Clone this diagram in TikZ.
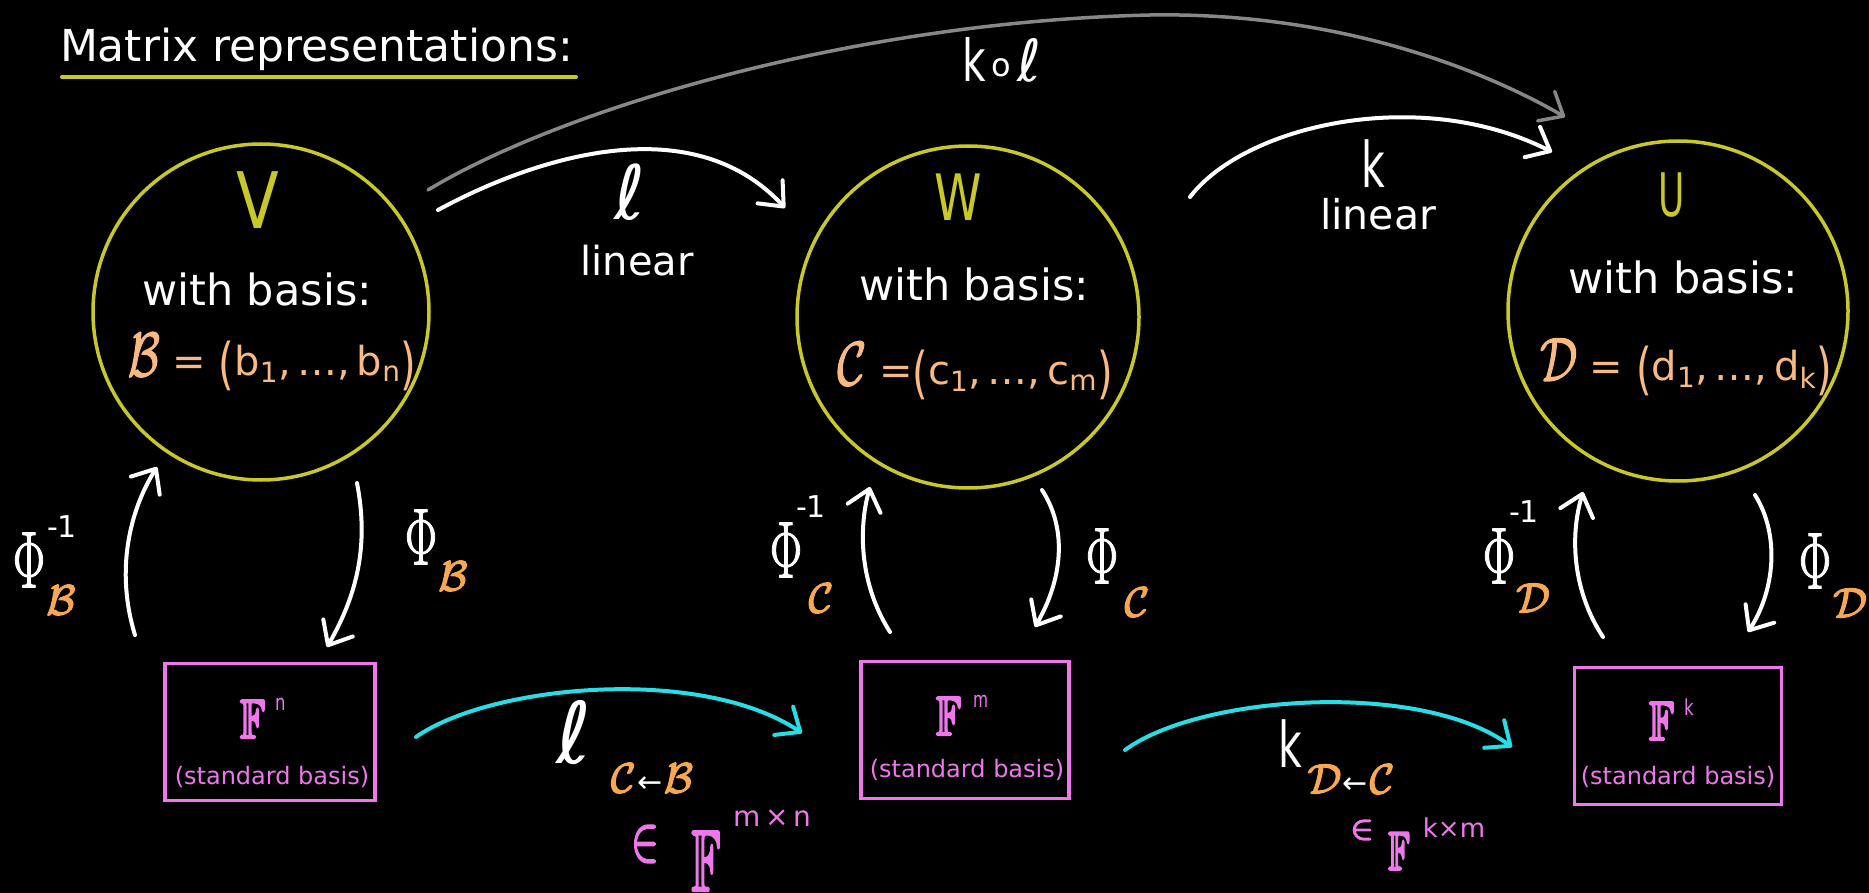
\documentclass[tikz,border=0pt]{standalone}
\usepackage{fix-cm}
\usepackage{amssymb}
\usepackage{graphicx}
\usepackage[no-math]{fontspec}
\setmainfont{DejaVu Sans}
\usetikzlibrary{arrows.meta}
\definecolor{olive}{RGB}{200,200,40}
\definecolor{peach}{RGB}{248,186,130}
\definecolor{orng}{RGB}{248,168,80}
\definecolor{pnk}{RGB}{238,120,235}
\definecolor{cyn}{RGB}{40,222,230}
\definecolor{gry}{RGB}{135,135,135}
\newcommand\fs[1]{\fontsize{#1}{#1}\selectfont}
\newcommand\hsc[2]{\scalebox{#1}[1]{#2}}
\newcommand\thk[2]{\special{pdf:literal direct #1 w 1 j 2 Tr}#2\special{pdf:literal direct 0 Tr}}
\newcommand\bparen[1]{\raisebox{-0.18em}{\scalebox{1}[1.4]{#1}}}
\newcommand\myPhi{\hsc{0.6}{\thk{1.3}{$\Phi$}}}
\newcommand\scrl[2]{{\fs{#1}\thk{1.4}{$\mathcal{#2}$}}}
\newcommand\bbF[2]{{\fs{#1}\hsc{#2}{\thk{2.4}{$\mathbb{F}$}}}}
\begin{document}
\begin{tikzpicture}[x=1pt,y=-1pt,
  every node/.style={inner sep=0pt,outer sep=0pt,text=white},
  space/.style={circle,draw=olive,line width=3.5pt},
  stdbox/.style={rectangle,draw=pnk,line width=3.5pt},
  tipbarb/.style={-{Straight Barb[length=20pt,width=34pt,round]}},
  warr/.style={draw=white,line width=4pt,line cap=round,line join=round,tipbarb},
  garr/.style={draw=gry,line width=3.5pt,line cap=round,line join=round,tipbarb},
  carr/.style={draw=cyn,line width=4pt,line cap=round,line join=round,tipbarb},
  uline/.style={draw=olive,line width=4pt,line cap=round}
]
\fill[black] (0,0) rectangle (1869,893);
\useasboundingbox (0,0) rectangle (1869,893);

% title
\node[anchor=base west] (title) at (60,62) {\fs{44}Matrix representations:};
\coordinate (ulS) at (62,77);
\coordinate (ulE) at (576,77);
\draw[uline] (ulS) -- (ulE);

% spaces
\node[space,minimum size=336pt] (V) at (261,312) {};
\node[space,minimum size=342pt] (W) at (968,317) {};
\node[space,minimum size=340pt] (U) at (1678,311) {};

\node[text=olive] (Vname) at (258,200) {\fs{78}\hsc{0.8}{V}};
\node[text=olive] (Wname) at (958,197) {\fs{64}\hsc{0.75}{W}};
\node[text=olive] (Uname) at (1672,195) {\fs{60}\hsc{0.6}{U}};

\node (Vwb) at (257,289) {\fs{43}with basis:};
\node (Wwb) at (974,284) {\fs{43}with basis:};
\node (Uwb) at (1683,277) {\fs{43}with basis:};

\node[text=peach] (Vbas) at (272,362) {\fs{40}\hsc{0.75}{\scrl{62}{B}} = \bparen{(}b\textsubscript{1},\,…,\,b\textsubscript{n}\bparen{)}};
\node[text=peach] (Wbas) at (975,371) {\fs{40}\hsc{0.8}{\scrl{62}{C}} =\bparen{(}c\textsubscript{1},\,…,\,c\textsubscript{m}\bparen{)}};
\node[text=peach] (Ubas) at (1686,367) {\fs{40}\hsc{0.75}{\scrl{62}{D}} = \bparen{(}d\textsubscript{1},\,…,\,d\textsubscript{k}\bparen{)}};

% boxes
\node[stdbox,minimum width=210pt,minimum height=137pt] (Fn) at (270,732) {};
\node[stdbox,minimum width=208pt,minimum height=137pt] (Fm) at (965,730) {};
\node[stdbox,minimum width=207pt,minimum height=137pt] (Fk) at (1678,736) {};

\node[anchor=base west,text=pnk] (FnT) at (240,738) {\bbF{55}{0.75}\hspace{10pt}\raisebox{28pt}{\fs{22}\hsc{0.75}{n}}};
\node[anchor=base west,text=pnk] (FmT) at (936,735) {\bbF{55}{0.75}\hspace{12pt}\raisebox{28pt}{\fs{22}\hsc{0.7}{m}}};
\node[anchor=base west,text=pnk] (FkT) at (1649,740) {\bbF{55}{0.75}\hspace{10pt}\raisebox{25pt}{\fs{22}\hsc{0.75}{k}}};

\node[text=pnk] (FnS) at (272,777) {\fs{24}(standard basis)};
\node[text=pnk] (FmS) at (967,770) {\fs{24}(standard basis)};
\node[text=pnk] (FkS) at (1678,777) {\fs{24}(standard basis)};

% Phi labels
\node (PBi) at (29,560) {\fs{80}\myPhi};
\node (PBisup) at (62,527) {\fs{30}-1};
\node[text=orng] (PBisub) at (61,600) {\scrl{42}{B}};
\node (PB) at (421,537) {\fs{80}\myPhi};
\node[text=orng] (PBsub) at (453,576) {\scrl{42}{B}};

\node (PCi) at (786,550) {\fs{80}\myPhi};
\node (PCisup) at (811,507) {\fs{30}-1};
\node[text=orng] (PCisub) at (821,598) {\scrl{42}{C}};
\node (PC) at (1102,556) {\fs{80}\myPhi};
\node[text=orng] (PCsub) at (1137,602) {\scrl{42}{C}};

\node (PDi) at (1499,556) {\fs{80}\myPhi};
\node (PDisup) at (1524,512) {\fs{30}-1};
\node[text=orng] (PDisub) at (1533,598) {\scrl{42}{D}};
\node (PD) at (1815,561) {\fs{80}\myPhi};
\node[text=orng] (PDsub) at (1850,603) {\scrl{42}{D}};

% top labels
\node (ellT) at (630,192) {\fs{75}ℓ};
\node (linT) at (637,261) {\fs{40}linear};
\node (kT) at (1373,164) {\fs{63}\hsc{0.65}{k}};
\node (linT2) at (1378,214) {\fs{41}linear};
\node (kol) at (1002,60) {\fs{58}\hsc{0.7}{k}\hspace{6pt}\raisebox{5pt}{\fs{32}o}\hspace{6pt}ℓ};

% bottom labels
\node (ellC) at (574,733) {\fs{85}ℓ};
\node (ellCsub) at (652,778) {{\color{orng}\scrl{42}{C}}\,{\fs{30}←}\,{\color{orng}\scrl{42}{B}}};
\node[text=pnk] (inA) at (645,844) {\fs{64}\hsc{0.65}{\thk{2}{$\in$}}};
\node[text=pnk] (FA) at (706,861) {\bbF{87}{0.55}};
\node[text=pnk] (supA) at (772,818) {\fs{28}m\,×\,n};

\node (kC) at (1290,744) {\fs{63}\hsc{0.65}{k}};
\node (kCsub) at (1351,779) {{\color{orng}\scrl{42}{D}}\,{\fs{30}←}\,{\color{orng}\scrl{42}{C}}};
\node[text=pnk] (inB) at (1362,830) {\fs{34}\thk{1.6}{$\in$}};
\node[text=pnk] (FB) at (1399,851) {\bbF{54}{0.65}};
\node[text=pnk] (supB) at (1454,828) {\fs{26}k×m};

% arrows: l and k
\coordinate (lS) at (438,210);
\coordinate (lE) at (785,208);
\draw[warr] (lS) .. controls (530,160) and (690,105) .. (lE);
\coordinate (kS) at (1190,197);
\coordinate (kE) at (1552,152);
\draw[warr] (kS) .. controls (1245,125) and (1420,85) .. (kE);
% k o l
\coordinate (koS) at (428,190);
\coordinate (koM) at (1150,15);
\coordinate (koE) at (1565,117);
\draw[garr] (koS) .. controls (560,110) and (850,22) .. (koM) .. controls (1330,12) and (1475,65) .. (koE);

% Phi arrows
\coordinate (VuS) at (135,635);
\coordinate (VuE) at (157,467);
\draw[warr] (VuS) .. controls (115,570) and (130,510) .. (VuE);
\coordinate (VdS) at (357,483);
\coordinate (VdE) at (327,647);
\draw[warr] (VdS) .. controls (368,540) and (360,590) .. (VdE);
\coordinate (WuS) at (890,632);
\coordinate (WuE) at (870,487);
\draw[warr] (WuS) .. controls (860,585) and (858,530) .. (WuE);
\coordinate (WdS) at (1042,490);
\coordinate (WdE) at (1035,627);
\draw[warr] (WdS) .. controls (1068,530) and (1062,580) .. (WdE);
\coordinate (UuS) at (1603,637);
\coordinate (UuE) at (1583,492);
\draw[warr] (UuS) .. controls (1572,590) and (1570,535) .. (UuE);
\coordinate (UdS) at (1755,495);
\coordinate (UdE) at (1748,632);
\draw[warr] (UdS) .. controls (1780,535) and (1775,590) .. (UdE);

% cyan arrows
\coordinate (cAS) at (416,737);
\coordinate (cAE) at (802,733);
\draw[carr] (cAS) .. controls (490,685) and (700,665) .. (cAE);
\coordinate (cBS) at (1125,750);
\coordinate (cBE) at (1512,747);
\draw[carr] (cBS) .. controls (1200,695) and (1420,680) .. (cBE);
\end{tikzpicture}
\end{document}
